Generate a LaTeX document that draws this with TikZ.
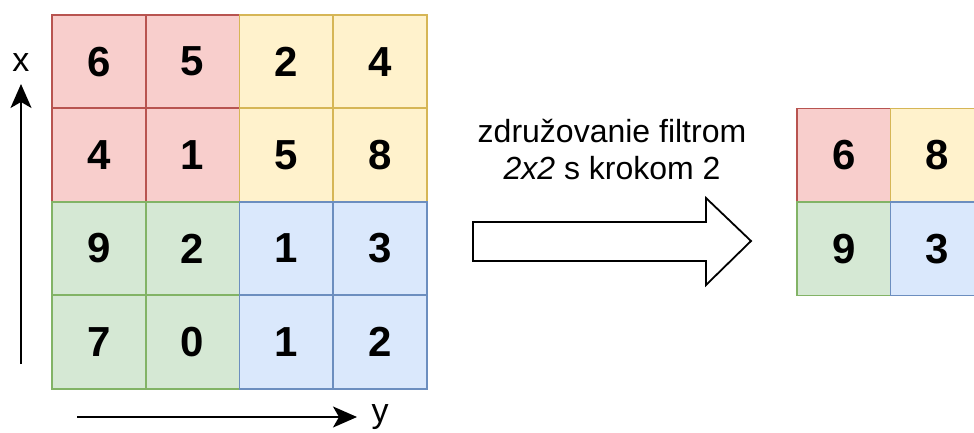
\documentclass[tikz,border=0pt]{standalone}
\usepackage{fontspec}
\setmainfont{Liberation Sans}
\usetikzlibrary{positioning, arrows.meta}

\definecolor{redfill}{HTML}{F8CECC}
\definecolor{redline}{HTML}{B85450}
\definecolor{yellowfill}{HTML}{FFF2CC}
\definecolor{yellowline}{HTML}{D6B656}
\definecolor{greenfill}{HTML}{D5E8D4}
\definecolor{greenline}{HTML}{82B366}
\definecolor{bluefill}{HTML}{DAE8FC}
\definecolor{blueline}{HTML}{6C8EBF}

\tikzset{
  cell/.style={draw, minimum size=93.5pt, inner sep=0pt, line width=1.7pt,
    font=\fontsize{42}{42}\selectfont\bfseries},
  red cell/.style={cell, fill=redfill, draw=redline},
  yellow cell/.style={cell, fill=yellowfill, draw=yellowline},
  green cell/.style={cell, fill=greenfill, draw=greenline},
  blue cell/.style={cell, fill=bluefill, draw=blueline},
  axis label/.style={font=\fontsize{34}{34}\selectfont, inner sep=0pt},
  axis/.style={-{Stealth[length=24pt, width=21pt, inset=6pt]}, line width=2pt}
}

\begin{document}
\begin{tikzpicture}[x=1pt, y=-1pt]
  \useasboundingbox (0,0) rectangle (974,433);

  % Input grid
  \foreach \r/\c/\v/\s in {1/1/6/red, 1/2/5/red, 1/3/2/yellow, 1/4/4/yellow,
                           2/1/4/red, 2/2/1/red, 2/3/5/yellow, 2/4/8/yellow,
                           3/1/9/green, 3/2/2/green, 3/3/1/blue, 3/4/3/blue,
                           4/1/7/green, 4/2/0/green, 4/3/1/blue, 4/4/2/blue}
    \node[\s\space cell] (in\r\c) at ({52+93.75*(\c-0.5)}, {15+93.4*(\r-0.5)}) {\v};

  % Output grid
  \foreach \r/\c/\v/\s in {1/1/6/red, 1/2/8/yellow, 2/1/9/green, 2/2/3/blue}
    \node[\s\space cell] (out\r\c) at ({797+93.5*(\c-0.5)}, {108.5+93.5*(\r-0.5)}) {\v};

  % Axes
  \node[axis label] (xlab) at (21,63) {x};
  \coordinate (xstart) at (21,364);
  \coordinate (xend) at (21,84);
  \draw[axis] (xstart) -- (xend);

  \node[axis label] (ylab) at (380,417) {y};
  \coordinate (ystart) at (77,417);
  \coordinate (yend) at (357,417);
  \draw[axis] (ystart) -- (yend);

  % Pooling arrow
  \draw[line width=1.8pt, fill=white, line join=miter]
    (473,222) -- (706,222) -- (706,198) -- (751,241) -- (706,285) -- (706,261)
    -- (473,261) -- cycle;
  \node[align=center, font=\fontsize{32}{37}\selectfont] (pool) at (612,150)
    {združovanie filtrom\\\textit{2x2} s krokom 2};
\end{tikzpicture}
\end{document}
